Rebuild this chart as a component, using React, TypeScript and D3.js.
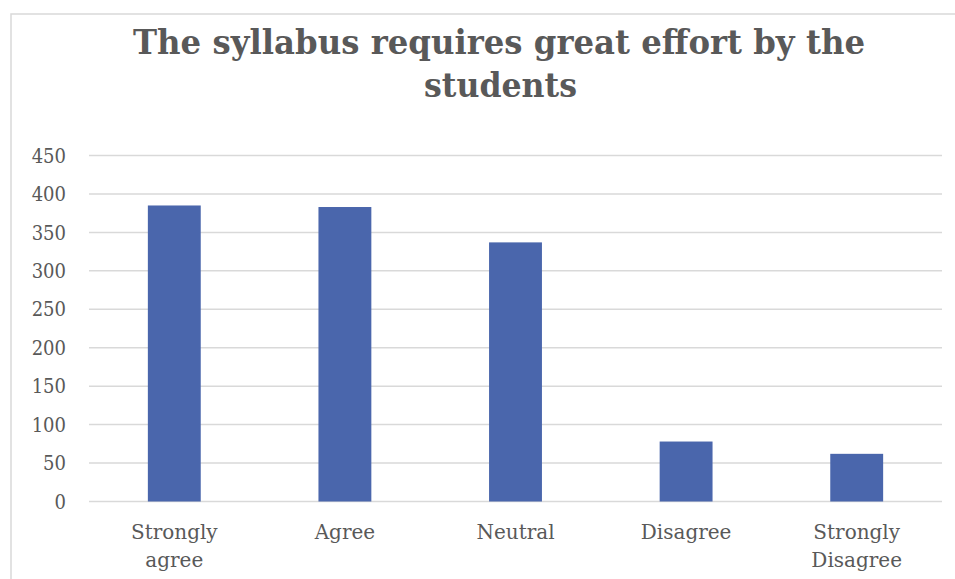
import React from "react";
import * as d3 from "d3";

const titleLines = ["The syllabus requires great effort by the", "students"];
const categories = ["Strongly agree", "Agree", "Neutral", "Disagree", "Strongly Disagree"];
const categoryLines = [["Strongly", "agree"], ["Agree"], ["Neutral"], ["Disagree"], ["Strongly", "Disagree"]];
const values = [385, 383, 337, 78, 62];
const yTicks = [0, 50, 100, 150, 200, 250, 300, 350, 400, 450];

const W = 955;
const H = 579;
const left = 89;
const right = 942;
const top = 155.5;
const bottom = 501.5;
const textColor = "#595959";
const gridColor = "#d9d9d9";
const barColor = "#4A66AC";
const font = "'DejaVu Serif', serif";
const condFont = "'DejaVu Serif Condensed', 'DejaVu Serif', serif";

export default function App() {
  const x = d3.scaleBand<string>().domain(categories).range([left, right]).paddingInner(0.69).paddingOuter(0.345);
  const y = d3.scaleLinear().domain([0, 450]).range([bottom, top]);

  return (
    <svg width={W} height={H} style={{ position: "absolute", left: 0, top: 0, background: "#fff" }}>
      <rect x={0} y={0} width={W} height={H} fill="#fff" />
      <rect x={11} y={14} width={W} height={H} fill="#fff" stroke={gridColor} strokeWidth={1.5} />
      <text x={499} y={54} textAnchor="middle" fontFamily={font} fontWeight="900" fontSize={34} fill={textColor}
        textLength={732} lengthAdjust="spacingAndGlyphs">{titleLines[0]}</text>
      <text x={500.5} y={97} textAnchor="middle" fontFamily={font} fontWeight="900" fontSize={34} fill={textColor}
        textLength={153} lengthAdjust="spacingAndGlyphs">{titleLines[1]}</text>
      {yTicks.map((t) => (
        <g key={t}>
          <line x1={left} x2={right} y1={y(t)} y2={y(t)} stroke={gridColor} strokeWidth={1.5} />
          <text x={66} y={y(t)} dy="0.36em" textAnchor="end" fontFamily={condFont} fontSize={20} fill={textColor}>{t}</text>
        </g>
      ))}
      {categories.map((c, i) => (
        <rect key={c} x={x(c)} y={y(values[i])} width={x.bandwidth()} height={y(0) - y(values[i])} fill={barColor} />
      ))}
      {categories.map((c, i) => (
        <text key={c} x={(x(c) as number) + x.bandwidth() / 2} y={539} textAnchor="middle" fontFamily={font} fontSize={20} fill={textColor}>
          {categoryLines[i].map((l, j) => (
            <tspan key={j} x={(x(c) as number) + x.bandwidth() / 2} dy={j === 0 ? 0 : 28}>{l}</tspan>
          ))}
        </text>
      ))}
    </svg>
  );
}
